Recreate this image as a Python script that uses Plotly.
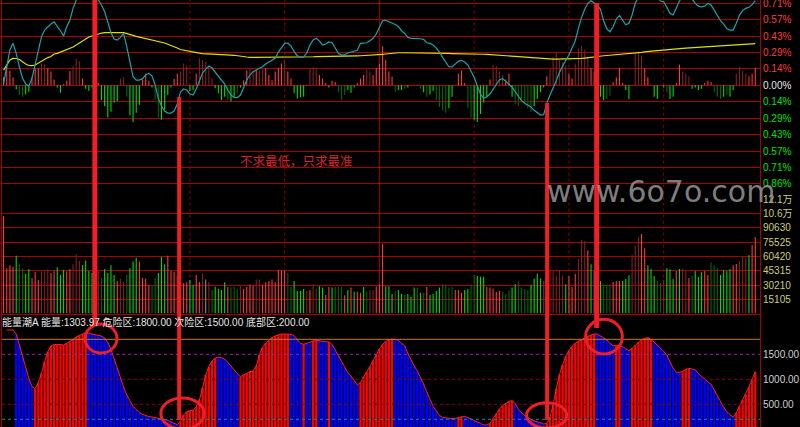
import plotly.graph_objects as go

N = 239
idx = list(range(N))

# ---------------- top panel (percent) ----------------
price_pct = [
    0.017, 0.177, 0.308, 0.366, 0.279, 0.162, 0.061, 0.011, -0.006, 0.061,
    0.177, 0.308, 0.424, 0.482, 0.511, 0.534, 0.554, 0.517, 0.476, 0.430,
    0.511, 0.569, 0.671, 0.744, 0.802, 0.831, 0.846, 0.831, 0.813, 0.787,
    0.744, 0.700, 0.642, 0.554, 0.459, 0.404, 0.395, 0.418, 0.453, 0.337,
    0.192, 0.075, 0.046, 0.046, 0.058, 0.090, 0.105, 0.081, 0.003, -0.113,
    -0.180, -0.224, -0.242, -0.242, -0.224, -0.163, -0.058, -0.032, -0.041, -0.076,
    -0.085, -0.032, 0.037, 0.107, 0.142, 0.168, 0.151, 0.116, 0.081, 0.046,
    0.011, -0.041, -0.085, -0.106, -0.108, -0.085, -0.024, 0.046, 0.090, 0.119,
    0.133, 0.148, 0.162, 0.186, 0.203, 0.214, 0.235, 0.290, 0.334, 0.366,
    0.369, 0.343, 0.293, 0.258, 0.244, 0.247, 0.284, 0.351, 0.395, 0.410,
    0.386, 0.351, 0.360, 0.378, 0.371, 0.325, 0.279, 0.264, 0.267, 0.282,
    0.288, 0.296, 0.305, 0.366, 0.366, 0.371, 0.389, 0.410, 0.447, 0.502,
    0.563, 0.567, 0.556, 0.548, 0.530, 0.513, 0.476, 0.453, 0.418, 0.410,
    0.410, 0.410, 0.406, 0.401, 0.371, 0.366, 0.351, 0.325, 0.290, 0.244,
    0.203, 0.162, 0.160, 0.186, 0.209, 0.218, 0.203, 0.177, 0.127, 0.070,
    -0.006, -0.076, -0.113, -0.099, -0.076, -0.035, 0.017, 0.049, 0.058, 0.037,
    0.009, -0.017, -0.056, -0.105, -0.134, -0.157, -0.174, -0.189, -0.218, -0.239,
    -0.259, -0.256, -0.157, -0.085, -0.026, 0.040, 0.113, 0.171, 0.218, 0.264,
    0.323, 0.389, 0.497, 0.593, 0.663, 0.715, 0.738, 0.715, 0.697, 0.663,
    0.561, 0.493, 0.467, 0.511, 0.578, 0.610, 0.563, 0.528, 0.541, 0.613,
    0.715, 0.772, 0.802, 0.816, 0.816, 0.802, 0.787, 0.772, 0.735, 0.729,
    0.680, 0.628, 0.613, 0.680, 0.735, 0.772, 0.787, 0.778, 0.752, 0.715,
    0.691, 0.685, 0.691, 0.715, 0.700, 0.656, 0.604, 0.563, 0.534, 0.493,
    0.482, 0.482, 0.541, 0.610, 0.654, 0.671, 0.680, 0.703, 0.738,
]

avg_pct = [
    0.133, 0.177, 0.221, 0.235, 0.234, 0.225, 0.203, 0.186, 0.173, 0.171,
    0.177, 0.194, 0.212, 0.225, 0.242, 0.251, 0.273, 0.279, 0.290, 0.295,
    0.308, 0.317, 0.334, 0.351, 0.369, 0.391, 0.408, 0.421, 0.430, 0.441,
    0.447, 0.456, 0.459, 0.460, 0.462, 0.462, 0.462, 0.460, 0.459, 0.453,
    0.445, 0.436, 0.427, 0.421, 0.415, 0.410, 0.404, 0.398, 0.392, 0.384,
    0.378, 0.369, 0.358, 0.349, 0.337, 0.325, 0.312, 0.306, 0.299, 0.293,
    0.288, 0.283, 0.280, 0.277, 0.276, 0.276, 0.275, 0.274, 0.273, 0.273,
    0.271, 0.269, 0.264, 0.262, 0.257, 0.253, 0.249, 0.247, 0.244, 0.244,
    0.244, 0.244, 0.244, 0.244, 0.244, 0.244, 0.244, 0.244, 0.244, 0.244,
    0.244, 0.244, 0.244, 0.244, 0.244, 0.245, 0.247, 0.248, 0.249, 0.251,
    0.251, 0.252, 0.252, 0.253, 0.253, 0.254, 0.254, 0.254, 0.255, 0.255,
    0.255, 0.256, 0.257, 0.258, 0.259, 0.260, 0.260, 0.261, 0.262, 0.264,
    0.269, 0.273, 0.277, 0.280, 0.282, 0.284, 0.284, 0.284, 0.284, 0.283,
    0.283, 0.283, 0.282, 0.282, 0.281, 0.281, 0.280, 0.280, 0.279, 0.279,
    0.278, 0.278, 0.277, 0.277, 0.276, 0.276, 0.275, 0.275, 0.274, 0.274,
    0.273, 0.273, 0.271, 0.270, 0.268, 0.266, 0.264, 0.262, 0.260, 0.258,
    0.256, 0.249, 0.247, 0.245, 0.243, 0.241, 0.239, 0.238, 0.237, 0.236,
    0.235, 0.231, 0.229, 0.229, 0.229, 0.229, 0.229, 0.229, 0.230, 0.231,
    0.232, 0.233, 0.234, 0.235, 0.238, 0.242, 0.247, 0.250, 0.254, 0.256,
    0.258, 0.260, 0.262, 0.264, 0.266, 0.268, 0.270, 0.273, 0.275, 0.277,
    0.280, 0.283, 0.287, 0.291, 0.296, 0.298, 0.301, 0.303, 0.306, 0.310,
    0.312, 0.314, 0.316, 0.318, 0.321, 0.322, 0.324, 0.326, 0.328, 0.330,
    0.331, 0.332, 0.334, 0.335, 0.337, 0.339, 0.341, 0.342, 0.344, 0.346,
    0.348, 0.350, 0.352, 0.354, 0.356, 0.357, 0.359, 0.361, 0.364,
]

osc_pct = [
    0.07, 0.17, 0.125, 0.07, -0.035, -0.085, -0.10, -0.08, -0.055, 0.075,
    0.15, 0.15, 0.19, 0.18, 0.15, 0.12, 0.05, -0.02, -0.065, 0.01,
    0.04, 0.125, 0.17, 0.23, 0.21, 0.06, -0.03, -0.05, -0.02, -0.03,
    0.02, -0.13, -0.18, -0.28, -0.23, -0.15, -0.14, 0.06, 0.07, -0.10,
    -0.26, -0.32, -0.24, -0.17, 0.05, 0.10, 0.04, -0.02, -0.13, -0.28,
    -0.30, -0.21, -0.085, -0.02, 0.055, 0.10, 0.12, 0.19, 0.17, -0.05,
    -0.04, 0.10, 0.235, 0.22, 0.205, 0.16, 0.06, -0.025, -0.07, -0.13,
    -0.10, -0.13, -0.14, -0.10, -0.07, -0.02, 0.045, 0.13, 0.15, 0.12,
    0.135, 0.13, 0.15, 0.15, 0.09, 0.045, 0.12, 0.15, 0.19, 0.21,
    0.12, 0.06, -0.07, -0.115, -0.105, -0.10, 0.005, 0.15, 0.16, 0.155,
    0.09, 0.06, 0.02, -0.02, 0.04, 0.03, -0.06, -0.13, -0.085, -0.04,
    -0.065, -0.02, 0.02, 0.06, 0.09, 0.135, 0.12, 0.09, 0.15, 0.19,
    0.34, 0.22, 0.12, 0.075, -0.055, -0.04, -0.04, -0.03, -0.02, 0.003,
    0.005, 0.005, -0.03, -0.06, -0.10, -0.08, -0.05, -0.13, -0.19, -0.22,
    -0.24, -0.20, -0.10, 0.003, 0.10, 0.13, 0.02, -0.20, -0.28, -0.30,
    -0.32, -0.25, -0.15, -0.10, 0.05, 0.18, 0.17, 0.12, 0.09, 0.05,
    0.10, -0.10, -0.16, -0.18, -0.15, -0.16, -0.20, -0.23, -0.18, -0.12,
    -0.06, -0.02, 0.08, 0.14, 0.25, 0.28, 0.22, 0.20, 0.17, 0.10,
    0.06, 0.19, 0.32, 0.34, 0.31, 0.25, 0.15, 0.12, -0.05, -0.10,
    -0.13, -0.12, -0.09, 0.03, 0.07, 0.15, 0.02, -0.04, -0.12, 0.003,
    0.28, 0.30, 0.26, 0.15, 0.07, 0.003, -0.10, -0.12, 0.003, -0.02,
    -0.06, -0.12, -0.10, 0.02, 0.18, 0.12, 0.10, 0.08, -0.03, -0.02,
    -0.04, -0.03, 0.02, 0.04, 0.03, -0.06, -0.10, -0.12, -0.10, -0.08,
    -0.10, -0.04, 0.10, 0.16, 0.13, 0.10, 0.08, 0.10, 0.15,
]
osc_kind = list(
    "WRRRGggGGR" "RRrrRRRGGR" "RRrrrRGGGG" "RGGGGGGrrg" "GGGGRRRGgg"
    "GGGGRRrrrG" "GRrrrrrGGG" "GgGGgGRRrr" "RrrRRRRRRr" "RRGGGGRrrr"
    "RRRGRRgggG" "GGRRRrrRRR" "RRRRgGGgGR" "RRgGgGGggg" "gGGRRRRggG"
    "GGGGRrrrrR" "RGggggggGG" "GGRrrrrrrR" "RrrrrrRRGG" "GggRRRRGGR"
    "rrrRRRGGRG" "gGGRRrrrGG" "GGRRRgggGg" "GGrrrrRRR"
)

top_tick_vals = [0.7165, 0.5732, 0.4299, 0.2866, 0.1433, 0.0,
                 -0.1433, -0.2866, -0.4299, -0.5732, -0.7165, -0.8598]
top_tick_text = ["0.71%", "0.57%", "0.43%", "0.29%", "0.14%", "0.00%",
                 "0.14%", "0.29%", "0.43%", "0.57%", "0.71%", "0.86%"]

# ---------------- volume panel ----------------
volume = [
    103000, 47800, 51000, 49500, 61000, 52000, 48000, 42000, 47000, 37600,
    44000, 35500, 44700, 44700, 46800, 43000, 44700, 49000, 40800, 46000,
    44700, 47000, 52000, 63000, 55500, 51000, 56000, 45000, 43000, 45000,
    45000, 37600, 47000, 43000, 51000, 40800, 34400, 36900, 33400, 40800,
    48000, 55000, 59000, 55000, 37600, 36900, 30000, 30000, 37600, 43000,
    60000, 52000, 61000, 45000, 44000, 40000, 36000, 32000, 33000, 35500,
    30500, 40800, 33400, 42000, 36000, 33400, 25000, 28400, 26300, 25000,
    33000, 28000, 27500, 28400, 26000, 29000, 26300, 28000, 30800, 29500,
    36000, 36000, 30500, 33000, 34400, 36000, 33000, 46000, 45500, 45500,
    43000, 28200, 34400, 24000, 24000, 26000, 24000, 25000, 31000, 26300,
    29000, 27500, 19700, 28000, 27500, 28400, 28400, 28000, 19300, 25000,
    27500, 23000, 23000, 22000, 28000, 23000, 25000, 25000, 29000, 30800,
    73500, 29000, 29000, 20700, 24000, 25000, 20700, 19700, 20700, 17500,
    27500, 27500, 22000, 22000, 28200, 19700, 20700, 24000, 27500, 31000,
    31000, 27500, 28200, 25000, 25000, 22000, 25000, 25700, 31000, 40800,
    39800, 38800, 39000, 28200, 27500, 26500, 23000, 24000, 23000, 20700,
    24300, 27500, 31300, 33800, 27500, 26000, 25000, 30500, 36900, 42000,
    37000, 34700, 45000, 46800, 45000, 40000, 46000, 40500, 31000, 39500,
    28200, 42000, 58000, 77700, 76700, 67000, 52000, 45000, 40000, 34400,
    31300, 31000, 31000, 33400, 34400, 34400, 34400, 36500, 40400, 62000,
    71400, 81000, 84000, 69000, 51000, 47000, 39700, 34400, 32300, 35500,
    48000, 47000, 36500, 45000, 47000, 47600, 45000, 37600, 39700, 45000,
    38600, 43600, 45000, 40800, 54500, 51000, 48000, 40800, 46000, 45000,
    47000, 51000, 52400, 55500, 60000, 60000, 62000, 72400, 81000,
]
vol_kind = list(
    "RRRRGggGGR" "RRrrrRRGGG" "RRrrrGGGGr" "rgGGGGRrrg" "GGGRRRRggG"
    "GGRRRRRRRG" "GRRrWrgGGG" "GRgggrRRRR" "rrRRRRRRRR" "ggGGGGrRrr"
    "GGRRGgggRG" "RGRRGgrrRR" "RGGWgGGgGG" "GgGgRGGGGg" "gggRRRGGgg"
    "GGGRRRRRgg" "gGGggggGGG" "GrrrrrrrGR" "RRrrrRGRRG" "gggRRRGGGr"
    "rrRRGGGggr" "GGGRGrrRgG" "GGRRgggGGG" "GRRrrrGRR"
)
vol_tick_vals = [15105, 30210, 45315, 60420, 75525, 90630, 105735, 120840]
vol_tick_text = ["15105", "30210", "45315", "60420", "75525", "90630", "10.6万", "12.1万"]

# ---------------- energy panel (能量潮A) ----------------
energy = [
    None, 1986, 1986, 1986, 1906, 1686, 1453, 1219, 1019, 853,
    813, 933, 1119, 1353, 1553, 1666, 1693, 1699, 1699, 1686,
    1719, 1753, 1799, 1846, 1879, 1913, 1933, 1919, 1906, 1893,
    1886, 1866, 1826, 1739, 1599, 1406, 1219, 1026, 846, 686,
    559, 459, 393, 333, 299, 273, 253, 246, 233, 226,
    213, 199, 179, 146, 113, 93, 159, 286, 353, 373,
    386, 446, 586, 833, 1086, 1253, 1366, 1419, 1439, 1433,
    1406, 1339, 1266, 1173, 1113, 1053, 1086, 1119, 1153, 1166,
    1266, 1493, 1639, 1726, 1779, 1833, 1866, 1893, 1906, 1906,
    1906, 1899, 1873, 1806, 1719, 1699, 1719, 1739, 1773, 1786,
    1773, 1753, 1753, 1746, 1699, 1586, 1459, 1333, 1219, 1133,
    1066, 966, 886, 933, 1053, 1153, 1253, 1373, 1499, 1606,
    1699, 1759, 1793, 1806, 1799, 1779, 1719, 1673, 1519, 1386,
    1266, 1166, 1039, 906, 746, 586, 459, 366, 279, 239,
    226, 219, 213, 219, 233, 253, 259, 233, 199, 179,
    146, 119, 86, 86, 119, 213, 313, 406, 473, 519,
    559, 573, 513, 399, 326, 273, 239, 193, 166, 153,
    133, 106, 119, 246, 493, 813, 1093, 1293, 1459, 1573,
    1659, 1719, 1766, 1786, 1833, 1859, 1886, 1906, 1906, 1870,
    1830, 1786, 1720, 1670, 1680, 1670, 1653, 1610, 1570, 1620,
    1680, 1740, 1790, 1820, 1833, 1800, 1740, 1690, 1630, 1560,
    1480, 1352, 1220, 1140, 1140, 1160, 1200, 1220, 1210, 1190,
    1110, 1050, 1000, 950, 900, 786, 650, 530, 440, 350,
    286, 240, 330, 460, 586, 700, 850, 1000, 1150,
]
energy_kind = list(
    "NNNNBBBBBB" "RRRRRRRRRR" "RRRRRRRBBB" "BBBBBBBBBB" "BBBBBBBBBB"
    "BBBBBBRRRR" "RRRRRRRRBB" "BBBBBRRRRR" "RRRRRRRRRR" "RBBBBRBBRR"
    "BBBRBBBBBB" "BBBRRRRRRR" "RRRRBBBBBB" "BBBBBBBBBB" "BBBBRRBBBB"
    "BBBBRRRRRR" "RRBBBBBBBB" "BBRRRRRRRR" "RRRRRRRRBB" "BBBBRRBBBR"
    "RRRRRRBBBB" "BBBBBRRRBB" "BBBBBBBBBB" "BBRRRRRRR"
)
energy_now = 1303.97
danger_level = 1800
sub_danger_level = 1500
bottom_level = 200
energy_tick_vals = [500, 1000, 1500]
energy_grid_levels = [1000, 500]

divider_idx = [59, 89, 119, 149, 179, 209]
solid_divider = 119

for arr in (price_pct, avg_pct, osc_pct, osc_kind, volume, vol_kind, energy, energy_kind):
    assert len(arr) == N, len(arr)

# ---------------- styling ----------------
W, H = 800, 427
X0, X1 = 2 / W, 760 / W
TOP_DOM = [1 - 199.2 / H, 1.0]
VOL_DOM = [1 - 313.6 / H, 1 - 199.2 / H]
EN_DOM = [0.0, 1 - 315 / H]
GRID = "#a80000"
FONT = "Liberation Sans, Arial, Noto Sans CJK SC, sans-serif"
TICK_SIZE = 10

kind_color = {"R": "#ff3c3c", "r": "#842222", "G": "#00e000",
              "g": "#006a00", "W": "#8c8c8c"}
energy_color = {"R": "#ff0000", "B": "#0000ff"}


def py(p):
    return 1 - p / H


fig = go.Figure()

# top panel
fig.add_trace(go.Bar(x=idx, y=osc_pct, width=0.34,
                     marker=dict(color=[kind_color[k] for k in osc_kind], line_width=0),
                     xaxis="x", yaxis="y", hoverinfo="skip"))
fig.add_trace(go.Scatter(x=idx, y=avg_pct, mode="lines",
                         line=dict(color="#e0e000", width=1.2),
                         xaxis="x", yaxis="y", hoverinfo="skip"))
fig.add_trace(go.Scatter(x=idx, y=price_pct, mode="lines",
                         line=dict(color="#18a4ae", width=1.2),
                         xaxis="x", yaxis="y", hoverinfo="skip"))

# volume panel
fig.add_trace(go.Bar(x=idx, y=volume, width=0.34,
                     marker=dict(color=[kind_color[k] for k in vol_kind], line_width=0),
                     xaxis="x2", yaxis="y2", hoverinfo="skip"))

# energy panel
bar_x = [i for i in idx if energy_kind[i] in energy_color]
bar_y = [energy[i] for i in bar_x]
bar_c = [energy_color[energy_kind[i]] for i in bar_x]
fig.add_trace(go.Bar(x=bar_x, y=bar_y, width=0.72,
                     marker=dict(color=bar_c, line_width=0),
                     xaxis="x3", yaxis="y3", hoverinfo="skip"))
fig.add_trace(go.Scatter(x=idx, y=energy, mode="lines",
                         line=dict(color="#ff2020", width=1),
                         xaxis="x3", yaxis="y3", hoverinfo="skip"))

# colored tick labels for the top panel
top_colored = []
for v, t in zip(top_tick_vals, top_tick_text):
    c = "#ff3c3c" if v > 0 else ("#e6e6e6" if v == 0 else "#00e000")
    top_colored.append('<span style="color:%s">%s</span>' % (c, t))

xcommon = dict(domain=[X0, X1], range=[-0.5, 239.5], showticklabels=False,
               showgrid=False, zeroline=False, ticks="", fixedrange=True,
               automargin=False)
ycommon = dict(side="right", automargin=False, zeroline=False, ticks="",
               showline=True, linecolor=GRID, mirror=True, fixedrange=True,
               ticklabeloverflow="allow")

fig.update_layout(
    template="none",
    width=W, height=H, margin=dict(l=0, r=0, t=0, b=0, pad=0, autoexpand=False),
    paper_bgcolor="black", plot_bgcolor="black", showlegend=False,
    font=dict(family=FONT, size=12, color="#e0e0e0"),
    xaxis=dict(anchor="y", **xcommon),
    xaxis2=dict(anchor="y2", showline=True, linecolor=GRID, linewidth=1, **xcommon),
    xaxis3=dict(anchor="y3", **xcommon),
    yaxis=dict(domain=TOP_DOM, anchor="x", range=[-0.993, 0.744],
               tickvals=top_tick_vals, ticktext=top_colored,
               showgrid=True, gridcolor=GRID, gridwidth=1,
               tickfont=dict(size=TICK_SIZE, family=FONT), **ycommon),
    yaxis2=dict(domain=VOL_DOM, anchor="x2", range=[0, 120840],
                tickvals=vol_tick_vals, ticktext=vol_tick_text,
                showgrid=True, gridcolor=GRID, gridwidth=1,
                tickfont=dict(size=TICK_SIZE, family=FONT, color="#cccc7a"), **ycommon),
    yaxis3=dict(domain=EN_DOM, anchor="x3", range=[46, 2286],
                tickvals=energy_tick_vals,
                ticktext=["%.2f" % v for v in energy_tick_vals],
                showgrid=False,
                tickfont=dict(size=TICK_SIZE, family=FONT, color="#cfcfcf"), **ycommon),
)

shapes = []
# vertical dividers over price + volume panels
for d in divider_idx:
    shapes.append(dict(type="line", xref="x", yref="paper", x0=d, x1=d,
                       y0=VOL_DOM[0], y1=1, layer="below",
                       line=dict(color=GRID if d == solid_divider else "#8a0000",
                                 width=1, dash="solid" if d == solid_divider else "dot")))
# energy reference levels
level_style = [
    (danger_level, "#c8782a", "solid"),
    (sub_danger_level, "#a020a0", "dot"),
    (energy_grid_levels[0], "#8a0000", "dot"),
    (energy_grid_levels[1], "#8a0000", "dot"),
    (bottom_level, "#1f8a96", "dot"),
]
for lv, col, dash in level_style:
    shapes.append(dict(type="line", xref="paper", yref="y3", x0=X0, x1=X1,
                       y0=lv, y1=lv, layer="above",
                       line=dict(color=col, width=1, dash=dash)))

# hand-drawn red markers (arrows + circles) of the original screenshot
arrow_x = [28.9, 55.6, 172.1, 187.8]
arrow_top_px = [0, 97, 103, 3]
arrow_bot_px = [326, 420, 420, 328]
arrow_w = [5, 4, 4, 5]
for ax_, t, b, w in zip(arrow_x, arrow_top_px, arrow_bot_px, arrow_w):
    shapes.append(dict(type="line", xref="x", yref="paper", x0=ax_, x1=ax_,
                       y0=py(b), y1=py(t), layer="above",
                       line=dict(color="#f01e26", width=w)))
circ_x0 = [25.8, 49.8, 165.6, 184.3]
circ_x1 = [35.9, 63.5, 178.3, 195.9]
circ_top_px = [324, 398, 402.7, 319.3]
circ_bot_px = [353, 429, 428, 354]
for a, b, t, bt in zip(circ_x0, circ_x1, circ_top_px, circ_bot_px):
    shapes.append(dict(type="circle", xref="x", yref="paper", x0=a, x1=b,
                       y0=py(bt), y1=py(t), layer="above",
                       line=dict(color="#f01e26", width=3)))
fig.update_layout(shapes=shapes)

header = "能量潮A 能量:%.2f 危险区:%.2f 次险区:%.2f 底部区:%.2f" % (
    energy_now, danger_level, sub_danger_level, bottom_level)

fig.update_layout(annotations=[
    dict(text=header, xref="paper", yref="paper", x=0.0, y=py(322),
         xanchor="left", yanchor="middle", showarrow=False,
         font=dict(size=10, color="#e6e6e6",
                   family="Liberation Sans, Noto Sans CJK SC, sans-serif")),
    dict(text="不求最低，只求最准", xref="x", yref="y", x=92.9, y=-0.656,
         xanchor="center", yanchor="middle", showarrow=False,
         font=dict(size=12.5, color="#d42424", family="Noto Sans CJK SC")),
    dict(text="www.6o7o.com", xref="paper", yref="paper", x=661 / W, y=py(191),
         xanchor="center", yanchor="middle", showarrow=False,
         font=dict(size=30, color="rgba(150,150,150,0.85)", family="DejaVu Sans")),
])

fig.write_html(
    "out.html",
    config={"displayModeBar": False, "staticPlot": True},
    post_script="document.body.style.margin='0px';document.body.style.overflow='hidden';",
)
